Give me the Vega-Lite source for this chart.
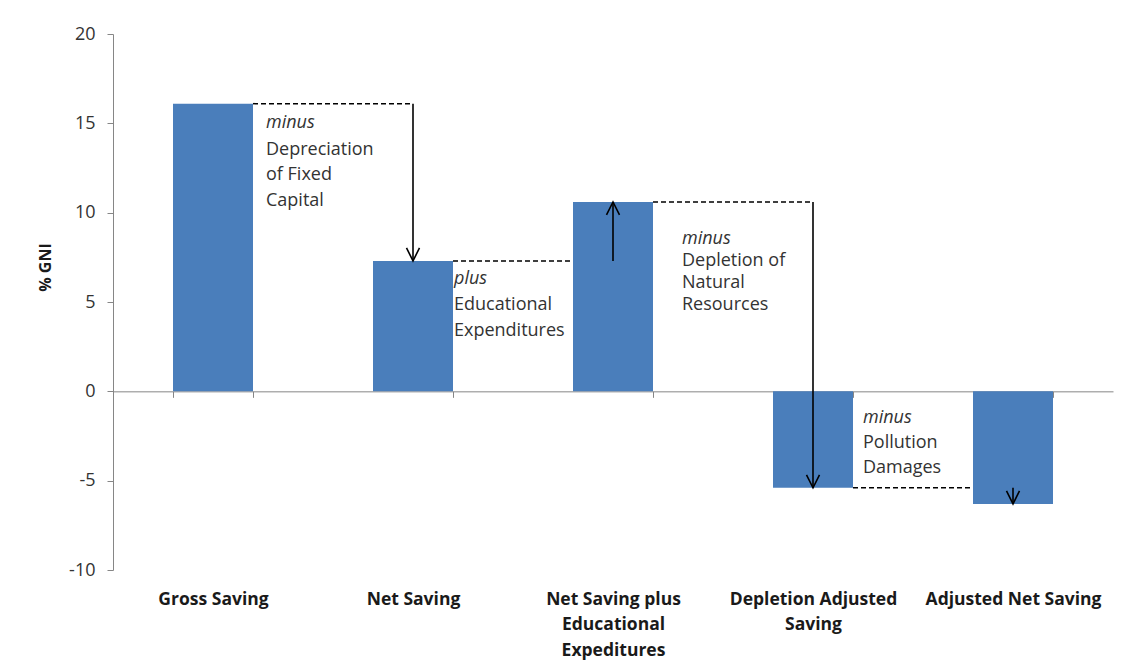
{
  "$schema": "https://vega.github.io/schema/vega-lite/v6.json",
  "width": 1000,
  "height": 536,
  "autosize": "none",
  "padding": {"left": 113, "top": 34, "right": 8, "bottom": 101},
  "background": "white",
  "config": {"view": {"stroke": null}, "font": "Open Sans"},
  "datasets": {
    "bars": [
      {"measure": "Gross Saving", "value": 16.1},
      {"measure": "Net Saving", "value": 7.3},
      {"measure": "Net Saving plus Educational Expeditures", "value": 10.6},
      {"measure": "Depletion Adjusted Saving", "value": -5.4},
      {"measure": "Adjusted Net Saving", "value": -6.3}
    ],
    "steps": [
      {"from": "Gross Saving", "to": "Net Saving", "start": 16.1, "end": 7.3, "dir": "down"},
      {"from": "Net Saving", "to": "Net Saving plus Educational Expeditures", "start": 7.3, "end": 10.6, "dir": "up"},
      {"from": "Net Saving plus Educational Expeditures", "to": "Depletion Adjusted Saving", "start": 10.6, "end": -5.4, "dir": "down"},
      {"from": "Depletion Adjusted Saving", "to": "Adjusted Net Saving", "start": -5.4, "end": -6.3, "dir": "down"}
    ],
    "notes": [
      {"id": 1, "measure": "Gross Saving", "y": 15.51, "kw": "minus", "rest": "Depreciation\nof Fixed\nCapital"},
      {"id": 2, "measure": "Net Saving", "y": 6.79, "kw": "plus", "rest": "Educational\nExpenditures"},
      {"id": 3, "measure": "Net Saving plus Educational Expeditures", "y": 9.02, "kw": "minus", "rest": "Depletion of\nNatural\nResources"},
      {"id": 4, "measure": "Depletion Adjusted Saving", "y": -0.99, "kw": "minus", "rest": "Pollution\nDamages"}
    ]
  },
  "layer": [
    {
      "data": {"name": "steps"},
      "mark": {"type": "rule", "strokeDash": [5, 3], "strokeWidth": 1.5, "color": "black", "xOffset": 40},
      "encoding": {
        "x": {"field": "from", "type": "nominal"},
        "x2": {"field": "to"},
        "y": {"field": "start", "type": "quantitative"}
      }
    },
    {
      "data": {"name": "bars"},
      "mark": {"type": "bar", "color": "#4A7EBB"},
      "encoding": {
        "x": {
          "field": "measure",
          "type": "nominal",
          "sort": null,
          "scale": {
            "domain": ["Gross Saving", "Net Saving", "Net Saving plus Educational Expeditures", "Depletion Adjusted Saving", "Adjusted Net Saving"],
            "paddingInner": 0.6,
            "paddingOuter": 0.3
          },
          "axis": {
            "title": null,
            "orient": "bottom",
            "offset": -178.67,
            "domain": true,
            "domainColor": "#868686",
            "ticks": true,
            "tickBand": "extent",
            "tickColor": "#868686",
            "tickSize": 6,
            "labelAngle": 0,
            "labelAlign": "center",
            "labelPadding": 202,
            "labelFontSize": 17.5,
            "labelFontWeight": "bold",
            "labelColor": "#1a1a1a",
            "labelLineHeight": 25.5,
            "labelLimit": 0,
            "labelExpr": "datum.value == 'Net Saving plus Educational Expeditures' ? ['Net Saving plus', 'Educational', 'Expeditures'] : datum.value == 'Depletion Adjusted Saving' ? ['Depletion Adjusted', 'Saving'] : datum.label"
          }
        },
        "y": {
          "field": "value",
          "type": "quantitative",
          "scale": {"domain": [-10, 20], "nice": false},
          "axis": {
            "title": "% GNI",
            "values": [-10, -5, 0, 5, 10, 15, 20],
            "labelExpr": "datum.value < 0 ? '-' + abs(datum.value) : '' + datum.value",
            "grid": false,
            "domainColor": "#868686",
            "tickColor": "#868686",
            "tickSize": 6,
            "labelPadding": 12,
            "labelFontSize": 18,
            "labelColor": "#333333",
            "titleFontSize": 16,
            "titleFontWeight": "bold",
            "titleColor": "#1a1a1a",
            "titleX": -68,
            "titleY": 233,
            "titleAngle": -90,
            "titleAlign": "center",
            "titleBaseline": "middle"
          }
        }
      }
    },
    {
      "data": {"name": "steps"},
      "mark": {"type": "rule", "strokeWidth": 1.6, "color": "black"},
      "encoding": {
        "x": {"field": "to", "type": "nominal"},
        "y": {"field": "start", "type": "quantitative"},
        "y2": {"field": "end"}
      }
    },
    {
      "data": {"name": "steps"},
      "mark": {"type": "point", "filled": false, "stroke": "black", "strokeWidth": 1.6, "size": 169, "opacity": 1},
      "encoding": {
        "x": {"field": "to", "type": "nominal"},
        "y": {"field": "end", "type": "quantitative"},
        "shape": {
          "field": "dir",
          "type": "nominal",
          "scale": {"domain": ["down", "up"], "range": ["M -1 -2 L 0 0 L 1 -2", "M -1 2 L 0 0 L 1 2"]},
          "legend": null
        }
      }
    },
    {
      "data": {"name": "notes"},
      "transform": [{"filter": "datum.id == 1"}],
      "layer": [
        {"mark": {"type": "text", "align": "left", "baseline": "top", "fontSize": 18, "fontStyle": "italic", "color": "#333333", "dx": 53},
         "encoding": {"x": {"field": "measure", "type": "nominal"}, "y": {"field": "y", "type": "quantitative"}, "text": {"field": "kw"}}},
        {"mark": {"type": "text", "align": "left", "baseline": "top", "fontSize": 18, "color": "#333333", "dx": 53, "dy": 26.5, "lineBreak": "\n", "lineHeight": 25.7},
         "encoding": {"x": {"field": "measure", "type": "nominal"}, "y": {"field": "y", "type": "quantitative"}, "text": {"field": "rest"}}}
      ]
    },
    {
      "data": {"name": "notes"},
      "transform": [{"filter": "datum.id == 2"}],
      "layer": [
        {"mark": {"type": "text", "align": "left", "baseline": "top", "fontSize": 18, "fontStyle": "italic", "color": "#333333", "dx": 41},
         "encoding": {"x": {"field": "measure", "type": "nominal"}, "y": {"field": "y", "type": "quantitative"}, "text": {"field": "kw"}}},
        {"mark": {"type": "text", "align": "left", "baseline": "top", "fontSize": 18, "color": "#333333", "dx": 41, "dy": 26, "lineBreak": "\n", "lineHeight": 26},
         "encoding": {"x": {"field": "measure", "type": "nominal"}, "y": {"field": "y", "type": "quantitative"}, "text": {"field": "rest"}}}
      ]
    },
    {
      "data": {"name": "notes"},
      "transform": [{"filter": "datum.id == 3"}],
      "layer": [
        {"mark": {"type": "text", "align": "left", "baseline": "top", "fontSize": 18, "fontStyle": "italic", "color": "#333333", "dx": 69},
         "encoding": {"x": {"field": "measure", "type": "nominal"}, "y": {"field": "y", "type": "quantitative"}, "text": {"field": "kw"}}},
        {"mark": {"type": "text", "align": "left", "baseline": "top", "fontSize": 18, "color": "#333333", "dx": 69, "dy": 22, "lineBreak": "\n", "lineHeight": 22},
         "encoding": {"x": {"field": "measure", "type": "nominal"}, "y": {"field": "y", "type": "quantitative"}, "text": {"field": "rest"}}}
      ]
    },
    {
      "data": {"name": "notes"},
      "transform": [{"filter": "datum.id == 4"}],
      "layer": [
        {"mark": {"type": "text", "align": "left", "baseline": "top", "fontSize": 18, "fontStyle": "italic", "color": "#333333", "dx": 50},
         "encoding": {"x": {"field": "measure", "type": "nominal"}, "y": {"field": "y", "type": "quantitative"}, "text": {"field": "kw"}}},
        {"mark": {"type": "text", "align": "left", "baseline": "top", "fontSize": 18, "color": "#333333", "dx": 50, "dy": 25, "lineBreak": "\n", "lineHeight": 25},
         "encoding": {"x": {"field": "measure", "type": "nominal"}, "y": {"field": "y", "type": "quantitative"}, "text": {"field": "rest"}}}
      ]
    }
  ]
}
